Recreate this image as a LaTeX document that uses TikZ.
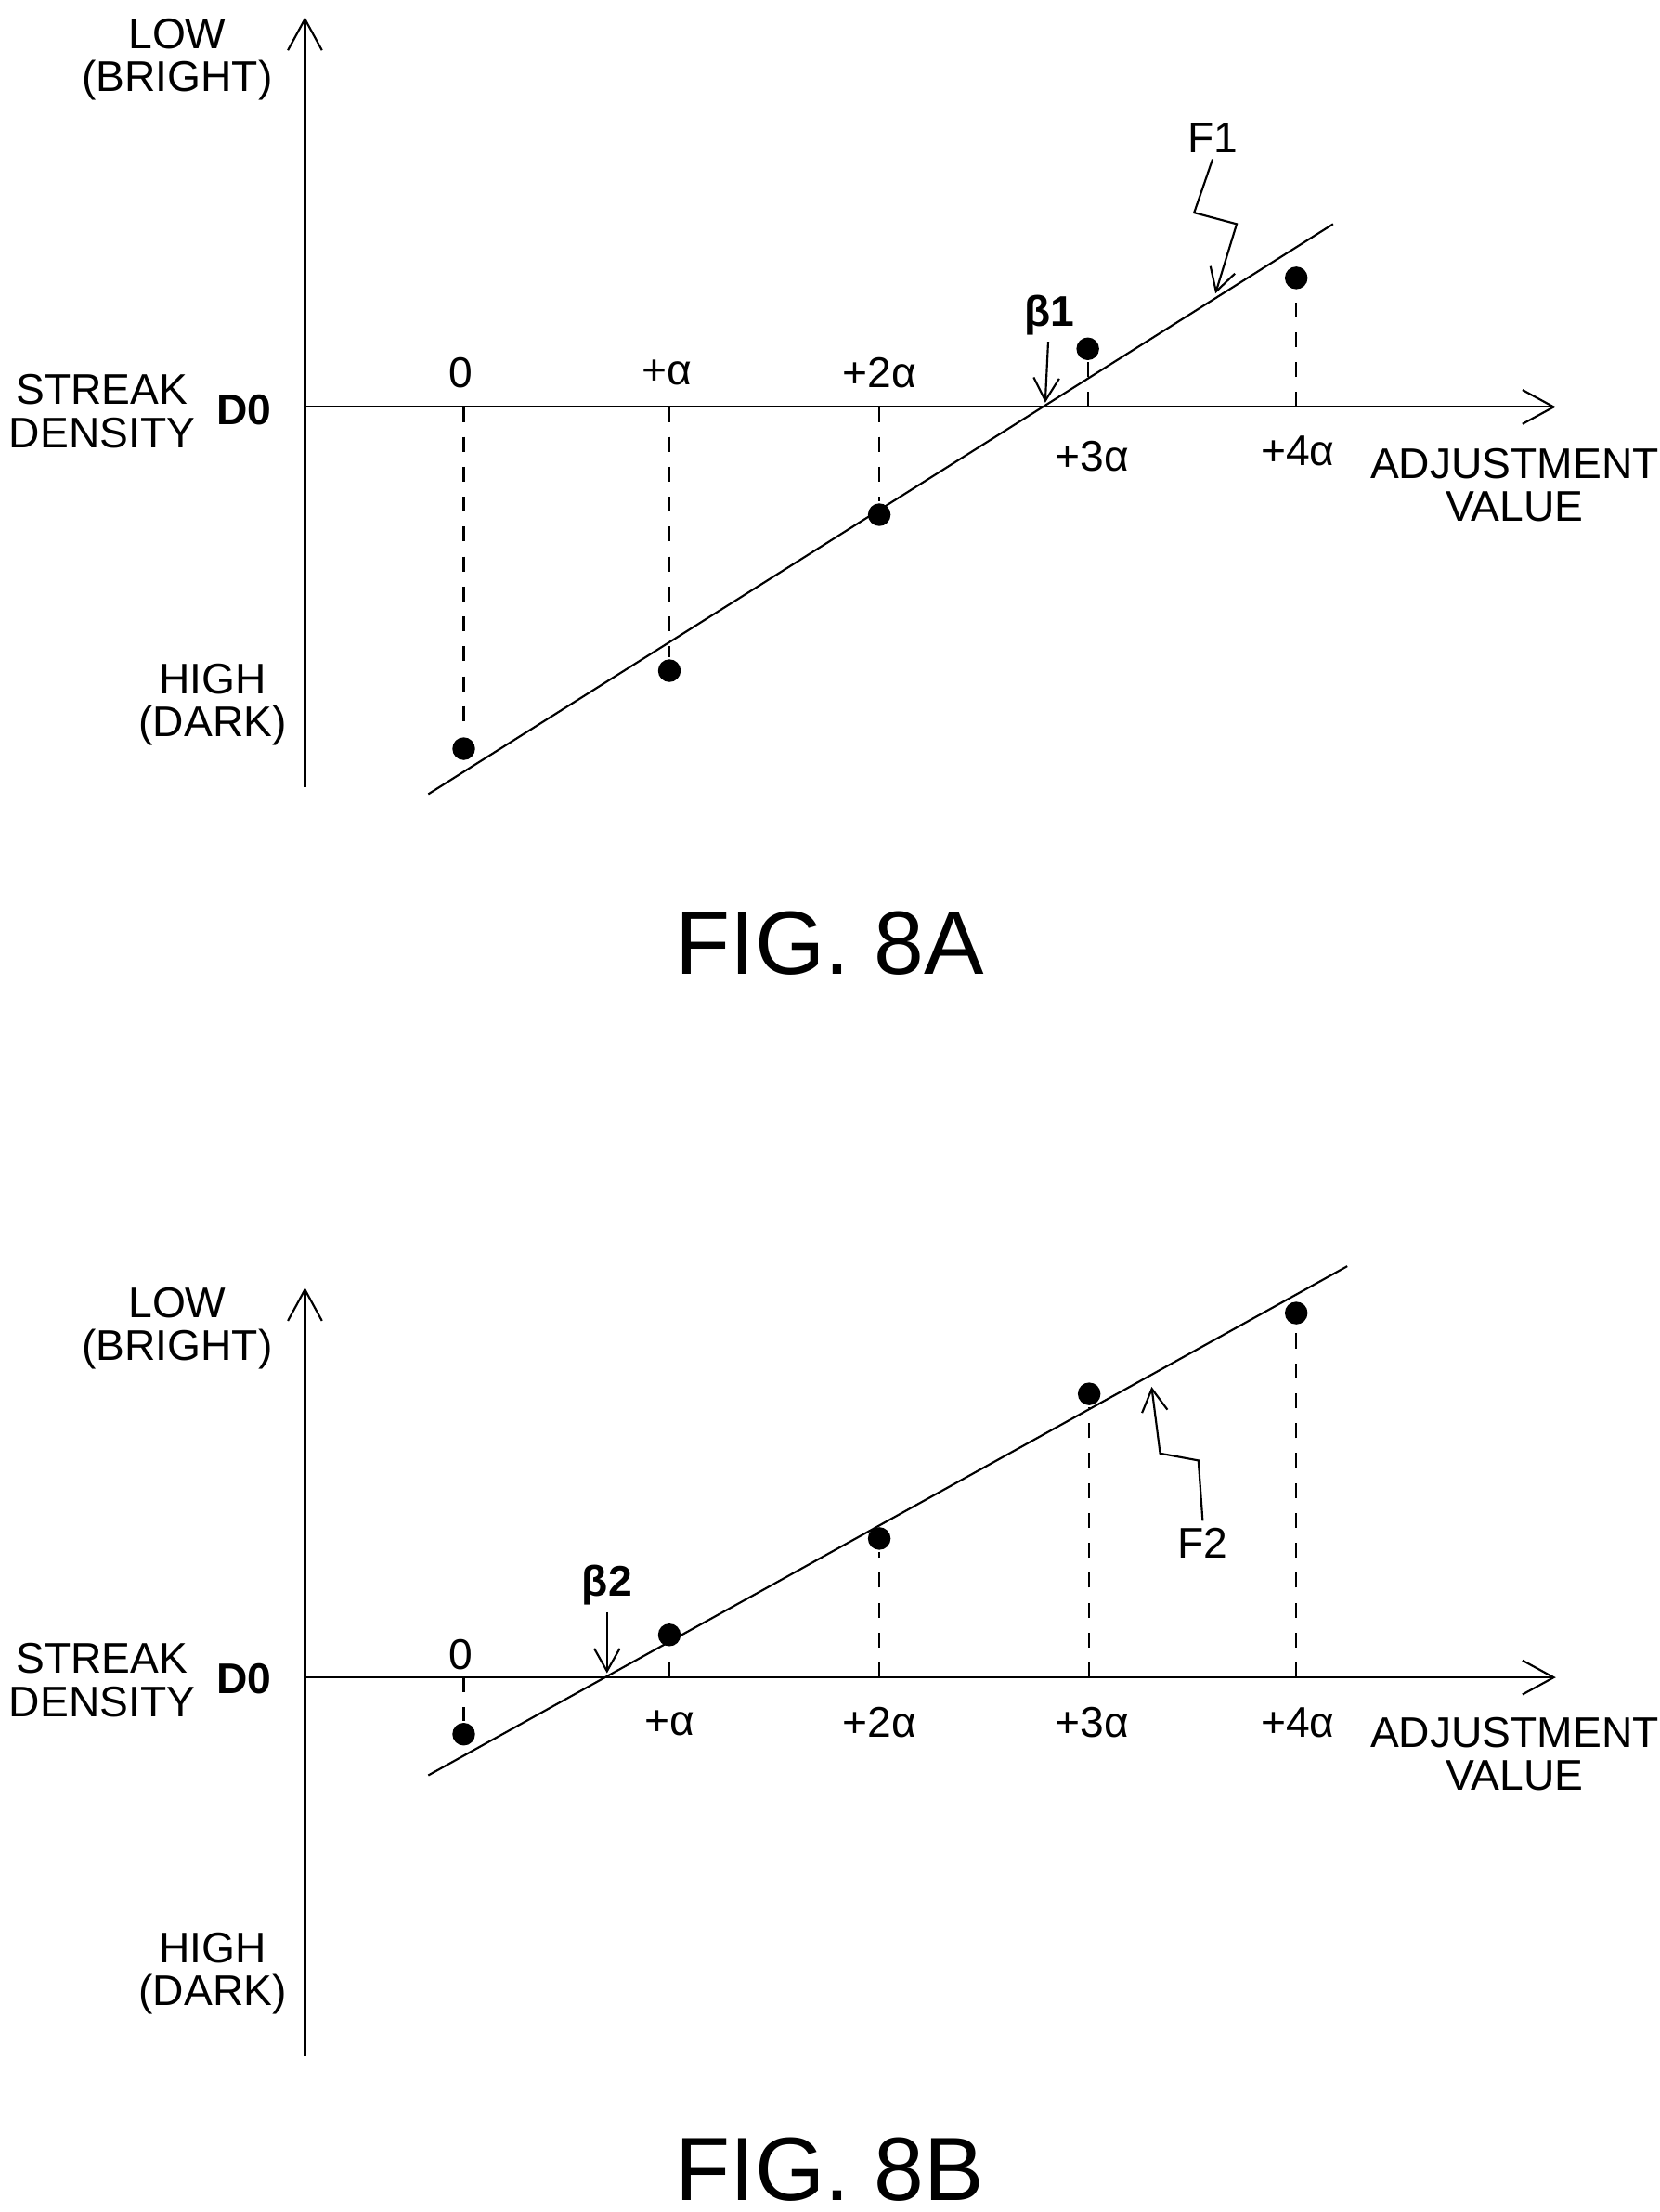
\documentclass[tikz,border=0pt]{standalone}
\usepackage{fontspec}
\setmainfont{Liberation Sans}
\usetikzlibrary{arrows.meta}
\begin{document}
\begin{tikzpicture}[x=0.01cm, y=-0.01cm, thick,
    dot/.style = {circle, fill, inner sep=0pt, minimum size=0.16cm},
    lbl/.style = {font=\fontsize{8.6}{8.6}\selectfont, align=center, inner sep=1pt},
    drop/.style = {dashed, thin},
    tip/.style = {thin, -{Straight Barb[length=1.6mm, width=1.8mm]}},
    axis/.style = {-{Straight Barb[length=2.2mm, width=2.4mm]}, thin}]
    \useasboundingbox (0,0) rectangle (1170,1560);

    % FIG. 8A
    \coordinate (O1) at (215,555);
    \coordinate (Y1) at (215,12);
    \coordinate (X0) at (215,287);
    \coordinate (X1) at (1097,287);
    \draw[axis] (O1) -- (Y1);
    \draw[axis] (X0) -- (X1);
    \coordinate (L1a) at (302,560);
    \coordinate (L1b) at (940,158);
    \draw[thin] (L1a) -- (L1b);
    \foreach \n/\x/\y in {a0/327/528, a1/472/473, a2/620/363, a3/767/246, a4/914/196} {
        \node[dot] (\n) at (\x,\y) {};
        \coordinate (\n x) at (\x,287);
        \draw[drop] (\n x) -- (\n);
    }
    \node[lbl] (a0l) at (325,263) {0};
    \node[lbl] (a1l) at (470,263) {+α};
    \node[lbl] (a2l) at (620,263) {+2α};
    \node[lbl] (a3l) at (770,322) {+3α};
    \node[lbl] (a4l) at (915,318) {+4α};
    \node[lbl, font=\fontsize{8.6}{9}\selectfont\bfseries] (b1) at (740,222) {β1};
    \coordinate (b1t) at (737,284);
    \draw[tip] (b1) -- (b1t);
    \node[lbl] (F1) at (855,97) {F1};
    \coordinate (F1t) at (857,207);
    \draw[tip] (F1.south) -- (842,150) -- (872,158) -- (F1t);
    \node[lbl] (sd1) at (72,290) {STREAK\\DENSITY};
    \node[lbl, font=\fontsize{8.6}{9}\selectfont\bfseries] (d01) at (172,289) {D0};
    \node[lbl] (lo1) at (125,42) {LOW\\(BRIGHT)};
    \node[lbl] (hi1) at (150,497) {HIGH\\(DARK)};
    \node[lbl] (av1) at (1068,342) {ADJUSTMENT\\VALUE};
    \node[font=\fontsize{18}{20}\selectfont] (fa) at (585,665) {FIG. 8A};

    % FIG. 8B
    \coordinate (O2) at (215,1450);
    \coordinate (Y2) at (215,908);
    \coordinate (X2) at (215,1183);
    \coordinate (X3) at (1097,1183);
    \draw[axis] (O2) -- (Y2);
    \draw[axis] (X2) -- (X3);
    \coordinate (L2a) at (302,1252);
    \coordinate (L2b) at (950,893);
    \draw[thin] (L2a) -- (L2b);
    \foreach \n/\x/\y in {b0/327/1223, b1p/472/1153, b2/620/1085, b3/768/983, b4/914/926} {
        \node[dot] (\n) at (\x,\y) {};
        \coordinate (\n x) at (\x,1183);
        \draw[drop] (\n x) -- (\n);
    }
    \node[lbl] (b0l) at (325,1167) {0};
    \node[lbl] (b1l) at (472,1215) {+α};
    \node[lbl] (b2l) at (620,1215) {+2α};
    \node[lbl] (b3l) at (770,1215) {+3α};
    \node[lbl] (b4l) at (915,1215) {+4α};
    \node[lbl, font=\fontsize{8.6}{9}\selectfont\bfseries] (b2s) at (428,1118) {β2};
    \coordinate (b2t) at (428,1180);
    \draw[tip] (b2s) -- (b2t);
    \node[lbl] (F2) at (848,1088) {F2};
    \coordinate (F2t) at (812,978);
    \draw[tip] (F2.north) -- (845,1030) -- (818,1025) -- (F2t);
    \node[lbl] (sd2) at (72,1185) {STREAK\\DENSITY};
    \node[lbl, font=\fontsize{8.6}{9}\selectfont\bfseries] (d02) at (172,1184) {D0};
    \node[lbl] (lo2) at (125,937) {LOW\\(BRIGHT)};
    \node[lbl] (hi2) at (150,1392) {HIGH\\(DARK)};
    \node[lbl] (av2) at (1068,1237) {ADJUSTMENT\\VALUE};
    \node[font=\fontsize{18}{20}\selectfont] (fb) at (585,1530) {FIG. 8B};
\end{tikzpicture}
\end{document}
